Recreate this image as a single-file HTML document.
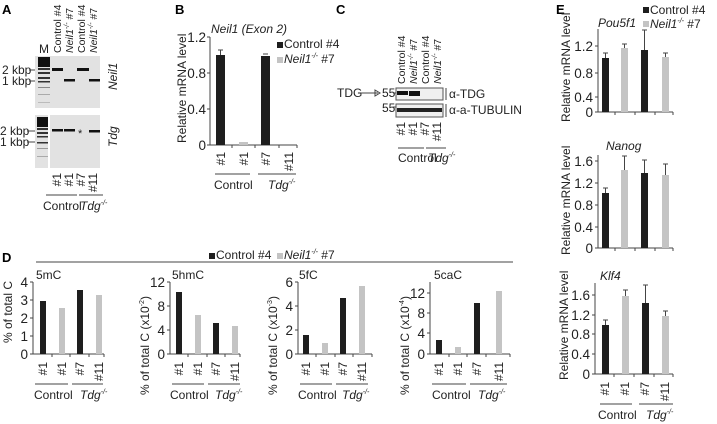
<!DOCTYPE html>
<html><head><meta charset="utf-8"><style>
body{margin:0;background:#fff}
svg{display:block;font-family:"Liberation Sans",sans-serif}
.t{font-size:12px;fill:#222}
.n{font-size:13.5px;fill:#222}
.c{font-size:10.5px;fill:#222}
.s{font-size:11px;fill:#222}
.b{font-size:13px;font-weight:bold;fill:#000}
.i{font-style:italic}
line,path{stroke:#444;stroke-width:1;fill:none}
.k{fill:#1e1e1e}
.g{fill:#c4c4c4}
</style></head><body>
<svg width="717" height="424" viewBox="0 0 717 424">
<!-- Panel A -->
<text class="b" x="2" y="14">A</text>
<text class="t" x="39" y="53">M</text>
<g class="c">
<text transform="translate(61,53) rotate(-90)">Control #4</text>
<text class="i" transform="translate(73,53) rotate(-90)">Neil1<tspan font-size="7" dy="-4">-/-</tspan><tspan dy="4" font-style="normal"> #7</tspan></text>
<text transform="translate(85,53) rotate(-90)">Control #4</text>
<text class="i" transform="translate(97,53) rotate(-90)">Neil1<tspan font-size="7" dy="-4">-/-</tspan><tspan dy="4" font-style="normal"> #7</tspan></text>
</g>
<rect x="35" y="56" width="65" height="52" fill="#e2e2e2"/>
<rect x="38" y="57" width="12" height="10" fill="#111"/>
<g fill="#333"><rect x="38" y="68" width="12" height="2"/><rect x="38" y="72" width="12" height="2"/><rect x="38" y="77" width="12" height="2"/><rect x="38" y="81" width="12" height="1.5"/><rect x="38" y="87" width="12" height="1" fill="#888"/><rect x="38" y="94" width="12" height="1" fill="#aaa"/><rect x="38" y="102" width="12" height="1" fill="#bbb"/></g>
<g fill="#111"><rect x="52" y="68" width="11" height="3"/><rect x="64" y="79" width="11" height="2.5"/><rect x="77" y="68" width="12" height="3"/><rect x="89" y="79" width="11" height="2.5"/></g>
<rect x="35" y="115" width="65" height="53" fill="#e2e2e2"/>
<rect x="48" y="115" width="2" height="53" fill="#fff"/>
<rect x="37" y="117" width="11" height="10" fill="#111"/>
<g fill="#333"><rect x="37" y="128" width="11" height="2"/><rect x="37" y="132" width="11" height="2"/><rect x="37" y="136" width="11" height="1.5"/><rect x="37" y="142" width="11" height="1.5"/><rect x="37" y="148" width="11" height="1" fill="#999"/><rect x="37" y="156" width="11" height="1" fill="#aaa"/></g>
<g fill="#111"><rect x="52" y="129" width="11" height="2.5"/><rect x="64" y="129" width="11" height="2.5"/><rect x="89" y="130" width="11" height="2.5"/></g>
<text class="s" x="78" y="137">*</text>
<g class="t"><text x="2" y="74">2 kbp</text><text x="2" y="85">1 kbp</text><text x="0" y="135">2 kbp</text><text x="0" y="146">1 kbp</text></g>
<line x1="29" y1="70" x2="35" y2="70"/><line x1="29" y1="81" x2="35" y2="81"/><line x1="27" y1="131" x2="35" y2="131"/><line x1="27" y1="142" x2="35" y2="142"/>
<text class="t i" transform="translate(117,90) rotate(-90)">Neil1</text>
<text class="t i" transform="translate(117,147) rotate(-90)">Tdg</text>
<g class="t"><text transform="translate(61,173) rotate(-90)" text-anchor="end">#1</text><text transform="translate(73,173) rotate(-90)" text-anchor="end">#1</text><text transform="translate(85,173) rotate(-90)" text-anchor="end">#7</text><text transform="translate(97,173) rotate(-90)" text-anchor="end">#11</text></g>
<line x1="46" y1="195" x2="77" y2="195"/><line x1="79" y1="195" x2="103" y2="195"/>
<text class="t" x="43" y="210">Control</text><text class="t i" x="80" y="210">Tdg<tspan font-size="7" dy="-5">-/-</tspan></text>

<!-- Panel B -->
<text class="b" x="175" y="14">B</text>
<text class="t i" x="211" y="33">Neil1 (Exon 2)</text>
<text class="t" transform="translate(186,143) rotate(-90)">Relative mRNA level</text>
<line x1="210" y1="37" x2="210" y2="145"/><line x1="210" y1="145" x2="297" y2="145"/>
<g><line x1="207" y1="37" x2="210" y2="37"/><line x1="207" y1="73" x2="210" y2="73"/><line x1="207" y1="109" x2="210" y2="109"/><line x1="207" y1="145" x2="210" y2="145"/><line x1="232" y1="145" x2="232" y2="148"/><line x1="255" y1="145" x2="255" y2="148"/><line x1="279" y1="145" x2="279" y2="148"/><line x1="297" y1="145" x2="297" y2="148"/></g>
<g class="n" text-anchor="end"><text x="206" y="42">1.2</text><text x="206" y="78">0.8</text><text x="206" y="114">0.4</text><text x="206" y="150">0</text></g>
<rect class="k" x="216" y="55" width="9" height="90"/><line x1="220.5" y1="50" x2="220.5" y2="55"/><line x1="218" y1="50" x2="223" y2="50"/>
<rect class="g" x="239" y="142" width="9" height="3"/>
<rect class="k" x="261" y="56" width="9" height="89"/><line x1="263" y1="54" x2="268" y2="54"/>
<g class="t"><text transform="translate(225,152) rotate(-90)" text-anchor="end">#1</text><text transform="translate(248,152) rotate(-90)" text-anchor="end">#1</text><text transform="translate(270,152) rotate(-90)" text-anchor="end">#7</text><text transform="translate(293,152) rotate(-90)" text-anchor="end">#11</text></g>
<line x1="215" y1="174" x2="250" y2="174"/><line x1="258" y1="174" x2="296" y2="174"/>
<text class="t" x="214" y="189">Control</text><text class="t i" x="268" y="189">Tdg<tspan font-size="7" dy="-5">-/-</tspan></text>
<rect class="k" x="277" y="42" width="6" height="6"/><text class="t" x="284" y="48">Control #4</text>
<rect class="g" x="277" y="57" width="6" height="6"/><text class="t i" x="284" y="63">Neil1<tspan font-size="7" dy="-5">-/-</tspan><tspan dy="5" font-style="normal"> #7</tspan></text>

<!-- Panel C -->
<text class="b" x="336" y="14">C</text>
<text class="t" x="337" y="97">TDG</text><path d="M361 93 H378" /><path d="M375 90 L380 93 L375 96 Z" fill="#222"/>
<text class="t" x="382" y="97">55</text><text class="t" x="382" y="112">55</text>
<line x1="393" y1="93" x2="396" y2="93"/><line x1="393" y1="107" x2="396" y2="107"/>
<rect x="396" y="88" width="47" height="12" fill="#f0f0f0" stroke="#555"/>
<rect x="397" y="91" width="11" height="4" fill="#111"/><rect x="409" y="91" width="11" height="5" fill="#111"/>
<rect x="396" y="104" width="47" height="13" fill="#f0f0f0" stroke="#555"/>
<rect x="397" y="108" width="45" height="4" fill="#222"/>
<line x1="446" y1="88" x2="446" y2="100"/><line x1="446" y1="104" x2="446" y2="117"/>
<text class="t" x="449" y="98">α-TDG</text><text class="t" x="449" y="114">α-a-TUBULIN</text>
<g class="c"><text transform="translate(405,84) rotate(-90)">Control #4</text>
<text class="i" transform="translate(417,84) rotate(-90)">Neil1<tspan font-size="7" dy="-4">-/-</tspan><tspan dy="4" font-style="normal"> #7</tspan></text>
<text transform="translate(429,84) rotate(-90)">Control #4</text>
<text class="i" transform="translate(441,84) rotate(-90)">Neil1<tspan font-size="7" dy="-4">-/-</tspan><tspan dy="4" font-style="normal"> #7</tspan></text></g>
<g class="t">
<text transform="translate(405,122) rotate(-90)" text-anchor="end">#1</text><text transform="translate(417,122) rotate(-90)" text-anchor="end">#1</text><text transform="translate(429,122) rotate(-90)" text-anchor="end">#7</text><text transform="translate(441,122) rotate(-90)" text-anchor="end">#11</text></g>
<line x1="398" y1="148" x2="424" y2="148"/><line x1="426" y1="148" x2="446" y2="148"/>
<text class="t" x="398" y="162">Control</text><text class="t i" x="428" y="162">Tdg<tspan font-size="7" dy="-5">-/-</tspan></text>

<!-- Panel D -->
<text class="b" x="2" y="262">D</text>
<rect class="k" x="209" y="253" width="6" height="6"/><text class="t" x="216" y="259">Control #4</text>
<rect class="g" x="277" y="253" width="6" height="6"/><text class="t i" x="284" y="259">Neil1<tspan font-size="7" dy="-5">-/-</tspan><tspan dy="5" font-style="normal"> #7</tspan></text>
<line x1="36" y1="262" x2="513" y2="262"/>
<!-- 5mC -->
<text class="t" x="36" y="279">5mC</text>
<text class="t" transform="translate(12,343) rotate(-90)">% of total C</text>
<line x1="33" y1="282" x2="33" y2="354"/><line x1="33" y1="354" x2="104" y2="354"/>
<g class="n" text-anchor="end"><text x="28" y="287">4</text><text x="28" y="305">3</text><text x="28" y="323">2</text><text x="28" y="341">1</text><text x="28" y="359">0</text></g>
<line x1="30" y1="282" x2="33" y2="282"/><line x1="30" y1="300" x2="33" y2="300"/><line x1="30" y1="318" x2="33" y2="318"/><line x1="30" y1="336" x2="33" y2="336"/><line x1="30" y1="354" x2="33" y2="354"/>
<line x1="52" y1="354" x2="52" y2="357"/><line x1="70" y1="354" x2="70" y2="357"/><line x1="89" y1="354" x2="89" y2="357"/><line x1="104" y1="354" x2="104" y2="357"/>
<rect class="k" x="40" y="301" width="6" height="53"/><rect class="g" x="59" y="308" width="6" height="46"/><rect class="k" x="77" y="290" width="6" height="64"/><rect class="g" x="96" y="295" width="6" height="59"/>
<g class="t"><text transform="translate(47,362) rotate(-90)" text-anchor="end">#1</text><text transform="translate(66,362) rotate(-90)" text-anchor="end">#1</text><text transform="translate(84,362) rotate(-90)" text-anchor="end">#7</text><text transform="translate(103,362) rotate(-90)" text-anchor="end">#11</text></g>
<line x1="35" y1="384" x2="68" y2="384"/><line x1="72" y1="384" x2="103" y2="384"/>
<text class="t" x="34" y="399">Control</text><text class="t i" x="80" y="399">Tdg<tspan font-size="7" dy="-5">-/-</tspan></text>
<!-- 5hmC -->
<text class="t" x="172" y="279">5hmC</text>
<text class="t" transform="translate(149,395) rotate(-90)">% of total C (x10<tspan font-size="7" dy="-5">-2</tspan><tspan dy="5">)</tspan></text>
<line x1="170" y1="282" x2="170" y2="354"/><line x1="170" y1="354" x2="240" y2="354"/>
<g class="n" text-anchor="end"><text x="165" y="287">12</text><text x="165" y="311">8</text><text x="165" y="335">4</text><text x="165" y="359">0</text></g>
<line x1="167" y1="282" x2="170" y2="282"/><line x1="167" y1="306" x2="170" y2="306"/><line x1="167" y1="330" x2="170" y2="330"/><line x1="167" y1="354" x2="170" y2="354"/>
<line x1="188" y1="354" x2="188" y2="357"/><line x1="207" y1="354" x2="207" y2="357"/><line x1="225" y1="354" x2="225" y2="357"/><line x1="240" y1="354" x2="240" y2="357"/>
<rect class="k" x="176" y="292" width="6" height="62"/><rect class="g" x="195" y="315" width="6" height="39"/><rect class="k" x="213" y="323" width="6" height="31"/><rect class="g" x="232" y="326" width="6" height="28"/>
<g class="t"><text transform="translate(183,362) rotate(-90)" text-anchor="end">#1</text><text transform="translate(202,362) rotate(-90)" text-anchor="end">#1</text><text transform="translate(220,362) rotate(-90)" text-anchor="end">#7</text><text transform="translate(239,362) rotate(-90)" text-anchor="end">#11</text></g>
<line x1="172" y1="384" x2="204" y2="384"/><line x1="208" y1="384" x2="240" y2="384"/>
<text class="t" x="170" y="399">Control</text><text class="t i" x="215" y="399">Tdg<tspan font-size="7" dy="-5">-/-</tspan></text>
<!-- 5fC -->
<text class="t" x="299" y="279">5fC</text>
<text class="t" transform="translate(277,395) rotate(-90)">% of total C (x10<tspan font-size="7" dy="-5">-3</tspan><tspan dy="5">)</tspan></text>
<line x1="298" y1="282" x2="298" y2="354"/><line x1="298" y1="354" x2="372" y2="354"/>
<g class="n" text-anchor="end"><text x="293" y="287">6</text><text x="293" y="311">4</text><text x="293" y="335">2</text><text x="293" y="359">0</text></g>
<line x1="295" y1="282" x2="298" y2="282"/><line x1="295" y1="306" x2="298" y2="306"/><line x1="295" y1="330" x2="298" y2="330"/><line x1="295" y1="354" x2="298" y2="354"/>
<line x1="316" y1="354" x2="316" y2="357"/><line x1="335" y1="354" x2="335" y2="357"/><line x1="353" y1="354" x2="353" y2="357"/><line x1="372" y1="354" x2="372" y2="357"/>
<rect class="k" x="303" y="335" width="6" height="19"/><rect class="g" x="322" y="343" width="6" height="11"/><rect class="k" x="340" y="298" width="6" height="56"/><rect class="g" x="359" y="286" width="6" height="68"/>
<g class="t"><text transform="translate(310,362) rotate(-90)" text-anchor="end">#1</text><text transform="translate(329,362) rotate(-90)" text-anchor="end">#1</text><text transform="translate(347,362) rotate(-90)" text-anchor="end">#7</text><text transform="translate(366,362) rotate(-90)" text-anchor="end">#11</text></g>
<line x1="300" y1="384" x2="332" y2="384"/><line x1="336" y1="384" x2="368" y2="384"/>
<text class="t" x="298" y="399">Control</text><text class="t i" x="342" y="399">Tdg<tspan font-size="7" dy="-5">-/-</tspan></text>
<!-- 5caC -->
<text class="t" x="434" y="279">5caC</text>
<text class="t" transform="translate(409,395) rotate(-90)">% of total C (x10<tspan font-size="7" dy="-5">-4</tspan><tspan dy="5">)</tspan></text>
<line x1="430" y1="282" x2="430" y2="354"/><line x1="430" y1="354" x2="510" y2="354"/>
<g class="n" text-anchor="end"><text x="425" y="298">12</text><text x="425" y="318">8</text><text x="425" y="338">4</text><text x="425" y="359">0</text></g>
<line x1="427" y1="293" x2="430" y2="293"/><line x1="427" y1="313" x2="430" y2="313"/><line x1="427" y1="333" x2="430" y2="333"/><line x1="427" y1="354" x2="430" y2="354"/>
<line x1="449" y1="354" x2="449" y2="357"/><line x1="467" y1="354" x2="467" y2="357"/><line x1="486" y1="354" x2="486" y2="357"/><line x1="510" y1="354" x2="510" y2="357"/>
<rect class="k" x="436" y="340" width="6" height="14"/><rect class="g" x="455" y="347" width="6" height="7"/><rect class="k" x="474" y="303" width="6" height="51"/><rect class="g" x="496" y="291" width="6" height="63"/>
<g class="t"><text transform="translate(443,362) rotate(-90)" text-anchor="end">#1</text><text transform="translate(462,362) rotate(-90)" text-anchor="end">#1</text><text transform="translate(481,362) rotate(-90)" text-anchor="end">#7</text><text transform="translate(503,362) rotate(-90)" text-anchor="end">#11</text></g>
<line x1="432" y1="384" x2="466" y2="384"/><line x1="470" y1="384" x2="507" y2="384"/>
<text class="t" x="432" y="399">Control</text><text class="t i" x="478" y="399">Tdg<tspan font-size="7" dy="-5">-/-</tspan></text>

<!-- Panel E -->
<text class="b" x="556" y="14">E</text>
<rect class="k" x="643" y="7" width="6" height="6"/><text class="t" x="650" y="14">Control #4</text>
<rect class="g" x="643" y="21" width="6" height="6"/><text class="t i" x="650" y="28">Neil1<tspan font-size="7" dy="-5">-/-</tspan><tspan dy="5" font-style="normal"> #7</tspan></text>
<!-- Pou5f1 -->
<text class="t i" x="598" y="27">Pou5f1</text>
<text class="t" transform="translate(570,122) rotate(-90)">Relative mRNA level</text>
<line x1="598" y1="29" x2="598" y2="112"/><line x1="598" y1="112" x2="673" y2="112"/>
<g class="n" text-anchor="end"><text x="593" y="51">1.2</text><text x="593" y="78">0.8</text><text x="593" y="102">0.4</text><text x="593" y="117">0</text></g>
<line x1="595" y1="46" x2="598" y2="46"/><line x1="595" y1="73" x2="598" y2="73"/><line x1="595" y1="97" x2="598" y2="97"/><line x1="595" y1="112" x2="598" y2="112"/>
<line x1="615" y1="112" x2="615" y2="115"/><line x1="635" y1="112" x2="635" y2="115"/><line x1="655" y1="112" x2="655" y2="115"/><line x1="673" y1="112" x2="673" y2="115"/>
<rect class="k" x="602" y="58" width="7" height="54"/><rect class="g" x="621" y="48" width="7" height="64"/><rect class="k" x="641" y="50" width="7" height="62"/><rect class="g" x="662" y="57" width="7" height="55"/>
<path d="M605.5 58V53M603 53H608 M624.5 48V44M622 44H627 M644.5 50V30M642 30H647 M665.5 57V53M663 53H668" stroke="#555"/>
<!-- Nanog -->
<text class="t i" x="606" y="150">Nanog</text>
<text class="t" transform="translate(570,255) rotate(-90)">Relative mRNA level</text>
<line x1="598" y1="155" x2="598" y2="248"/><line x1="598" y1="248" x2="673" y2="248"/>
<g class="n" text-anchor="end"><text x="593" y="166">1.6</text><text x="593" y="188">1.2</text><text x="593" y="210">0.8</text><text x="593" y="232">0.4</text><text x="593" y="253">0</text></g>
<line x1="595" y1="161" x2="598" y2="161"/><line x1="595" y1="183" x2="598" y2="183"/><line x1="595" y1="205" x2="598" y2="205"/><line x1="595" y1="227" x2="598" y2="227"/><line x1="595" y1="248" x2="598" y2="248"/>
<line x1="615" y1="248" x2="615" y2="251"/><line x1="635" y1="248" x2="635" y2="251"/><line x1="655" y1="248" x2="655" y2="251"/><line x1="673" y1="248" x2="673" y2="251"/>
<rect class="k" x="602" y="193" width="7" height="55"/><rect class="g" x="621" y="170" width="7" height="78"/><rect class="k" x="641" y="173" width="7" height="75"/><rect class="g" x="662" y="175" width="7" height="73"/>
<path d="M605.5 193V188M603 188H608 M624.5 170V156M622 156H627 M644.5 173V160M642 160H647 M665.5 175V164M663 164H668" stroke="#555"/>
<!-- Klf4 -->
<text class="t i" x="600" y="280">Klf4</text>
<text class="t" transform="translate(568,380) rotate(-90)">Relative mRNA level</text>
<line x1="595" y1="283" x2="595" y2="374"/><line x1="595" y1="374" x2="673" y2="374"/>
<g class="n" text-anchor="end"><text x="590" y="300">1.6</text><text x="590" y="320">1.2</text><text x="590" y="339">0.8</text><text x="590" y="359">0.4</text><text x="590" y="379">0</text></g>
<line x1="592" y1="295" x2="595" y2="295"/><line x1="592" y1="315" x2="595" y2="315"/><line x1="592" y1="334" x2="595" y2="334"/><line x1="592" y1="354" x2="595" y2="354"/><line x1="592" y1="374" x2="595" y2="374"/>
<line x1="614" y1="374" x2="614" y2="377"/><line x1="634" y1="374" x2="634" y2="377"/><line x1="654" y1="374" x2="654" y2="377"/><line x1="673" y1="374" x2="673" y2="377"/>
<rect class="k" x="602" y="325" width="7" height="49"/><rect class="g" x="622" y="296" width="7" height="78"/><rect class="k" x="642" y="303" width="7" height="71"/><rect class="g" x="662" y="316" width="7" height="58"/>
<path d="M605.5 325V320M603 320H608 M625.5 296V290M623 290H628 M645.5 303V285M643 285H648 M665.5 316V311M663 311H668" stroke="#555"/>
<g class="t"><text transform="translate(609,382) rotate(-90)" text-anchor="end">#1</text><text transform="translate(629,382) rotate(-90)" text-anchor="end">#1</text><text transform="translate(649,382) rotate(-90)" text-anchor="end">#7</text><text transform="translate(669,382) rotate(-90)" text-anchor="end">#11</text></g>
<line x1="600" y1="404" x2="632" y2="404"/><line x1="639" y1="404" x2="673" y2="404"/>
<text class="t" x="598" y="419">Control</text><text class="t i" x="646" y="419">Tdg<tspan font-size="7" dy="-5">-/-</tspan></text>
</svg>
</body></html>
